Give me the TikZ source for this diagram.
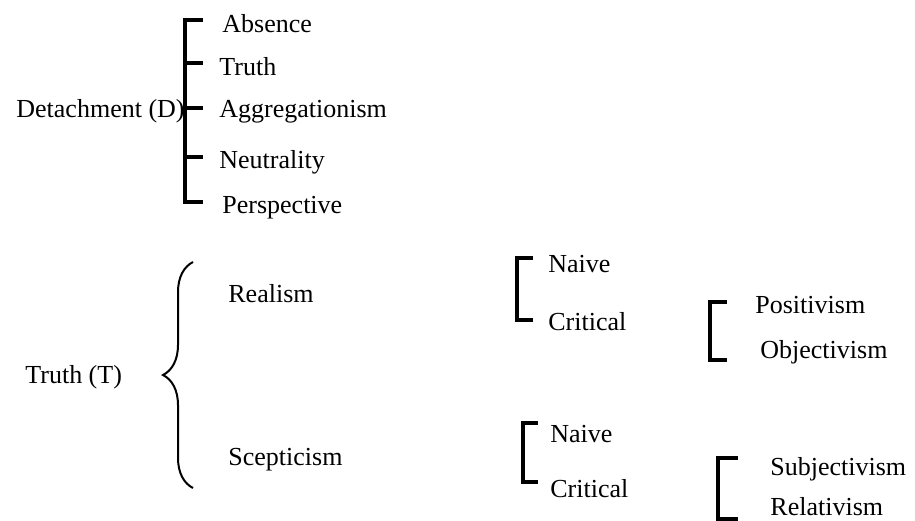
\documentclass[tikz,border=0pt]{standalone}
\usepackage{fontspec}
\setmainfont{Liberation Serif}
\usetikzlibrary{decorations.pathreplacing}
\begin{document}
\begin{tikzpicture}[x=0.5pt,y=-0.5pt,
  lbl/.style={anchor=base west,inner sep=0pt,font=\fontsize{13}{15}\selectfont},
  brk/.style={line width=1.6pt},
  curly/.style={line width=1pt,decorate,decoration={brace,amplitude=15pt}}]
\useasboundingbox (0,0) rectangle (915,520);
% Detachment
\node[lbl] (det) at (16,117) {Detachment (D)};
\node[lbl] (abs) at (222,32) {Absence};
\node[lbl] (tru) at (219,75) {Truth};
\node[lbl] (agg) at (219,117) {Aggregationism};
\node[lbl] (neu) at (219,168) {Neutrality};
\node[lbl] (per) at (222,213) {Perspective};
\draw[brk] (203,20) -- (185,20) -- (185,202) -- (203,202);
\draw[brk] (185,63) -- (203,63);
\draw[brk] (185,108) -- (203,108);
\draw[brk] (185,157) -- (203,157);
% Truth
\node[lbl] (truth) at (25,383) {Truth (T)};
\node[lbl] (real) at (228,302) {Realism};
\node[lbl] (scep) at (228,465) {Scepticism};
\coordinate (bt) at (193,262);
\coordinate (bb) at (193,488);
\draw[curly] (bb) -- (bt);
% Realism branches
\node[lbl] (rn) at (548,272) {Naive};
\node[lbl] (rc) at (548,330) {Critical};
\draw[brk] (533,258) -- (517,258) -- (517,320) -- (533,320);
\node[lbl] (pos) at (755,313) {Positivism};
\node[lbl] (obj) at (760,358) {Objectivism};
\draw[brk] (727,302) -- (710,302) -- (710,360) -- (727,360);
% Scepticism branches
\node[lbl] (sn) at (550,442) {Naive};
\node[lbl] (sc) at (550,497) {Critical};
\draw[brk] (538,423) -- (523,423) -- (523,482) -- (538,482);
\node[lbl] (sub) at (770,475) {Subjectivism};
\node[lbl] (rel) at (770,515) {Relativism};
\draw[brk] (738,458) -- (718,458) -- (718,519) -- (738,519);
\end{tikzpicture}
\end{document}
